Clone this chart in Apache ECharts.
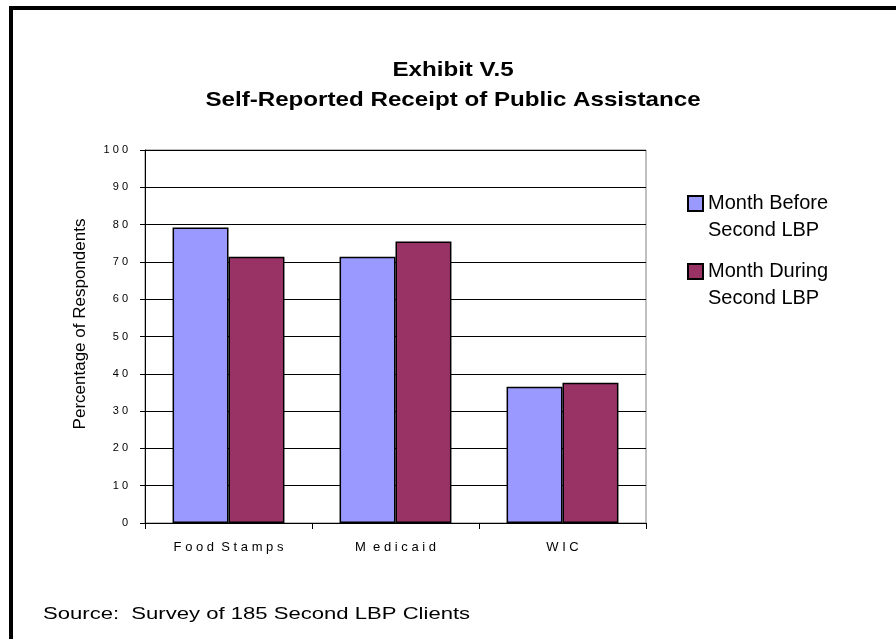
<!DOCTYPE html>
<html>
<head>
<meta charset="utf-8">
<script src="https://cdn.jsdelivr.net/npm/echarts@6/dist/echarts.min.js"></script>
<style>
html,body{margin:0;padding:0;background:#fff;}
#chart{width:896px;height:639px;}
</style>
</head>
<body>
<div id="chart"></div>
<script>
var categories = ['F o o d  S t a m p s', 'M  e d i c a i d', 'W I C'];
var seriesNames = ['Month Before\nSecond LBP', 'Month During\nSecond LBP'];
var monthBefore = [79.2, 71.4, 36.5];
var monthDuring = [71.4, 75.5, 37.6];
var yTicks = ['0', '1 0', '2 0', '3 0', '4 0', '5 0', '6 0', '7 0', '8 0', '9 0', '1 0 0'];
var titleText = 'Exhibit V.5\nSelf-Reported Receipt of Public Assistance';
var sourceText = 'Source:  Survey of 185 Second LBP Clients';
var yName = 'Percentage of Respondents';

var chart = echarts.init(document.getElementById('chart'), null, {renderer: 'canvas'});
var font = 'Liberation Sans, Arial, sans-serif';
chart.setOption({
  animation: false,
  backgroundColor: '#fff',
  legend: {
    orient: 'vertical', left: 682, top: 158,
    itemWidth: 15, itemHeight: 15, itemGap: -13,
    icon: 'rect',
    formatter: function (n) { return '\n' + n; },
    textStyle: {fontFamily: font, fontSize: 20, color: '#000', lineHeight: 27},
    data: seriesNames
  },
  grid: {left: 145, right: 250, top: 150, bottom: 116, show: true, borderColor: '#808080', borderWidth: 1},
  xAxis: {
    type: 'category', data: categories,
    axisLine: {lineStyle: {color: '#000', width: 1}},
    axisTick: {show: true, length: 6, lineStyle: {color: '#000'}},
    axisLabel: {fontFamily: font, fontSize: 13, color: '#000', margin: 18}
  },
  yAxis: {
    type: 'value', min: 0, max: 100, interval: 10,
    name: yName, nameLocation: 'middle', nameGap: 56,
    nameTextStyle: {fontFamily: font, fontSize: 17, color: '#000', padding: [0, 0, 0, 25]},
    axisLine: {show: true, lineStyle: {color: '#000', width: 1}},
    axisTick: {show: true, length: 5, lineStyle: {color: '#000'}},
    axisLabel: {fontFamily: font, fontSize: 11, color: '#000', margin: 17,
      formatter: function (v) { return yTicks[Math.round(v / 10)]; }},
    splitLine: {show: true, lineStyle: {color: '#000', width: 1}}
  },
  series: [
    {name: seriesNames[0], type: 'bar', data: monthBefore, barGap: '0%', barCategoryGap: '33%',
     itemStyle: {color: '#9999FF', borderColor: '#000', borderWidth: 1.5}},
    {name: seriesNames[1], type: 'bar', data: monthDuring,
     itemStyle: {color: '#993366', borderColor: '#000', borderWidth: 1.5}}
  ],
  graphic: [
    {type: 'rect', shape: {x: 9, y: 6, width: 887, height: 4}, style: {fill: '#000'}, silent: true},
    {type: 'rect', shape: {x: 9, y: 6, width: 4, height: 633}, style: {fill: '#000'}, silent: true},
    {type: 'text', x: 453, y: 85, scaleX: 1.15, silent: true,
     style: {text: titleText, font: 'bold 21px ' + font, fill: '#000', align: 'center', verticalAlign: 'middle', lineHeight: 30}},
    {type: 'text', x: 43, y: 615, scaleX: 1.38, silent: true,
     style: {text: sourceText, font: '16px ' + font, fill: '#000', align: 'left', verticalAlign: 'middle'}}
  ]
});
</script>
</body>
</html>
